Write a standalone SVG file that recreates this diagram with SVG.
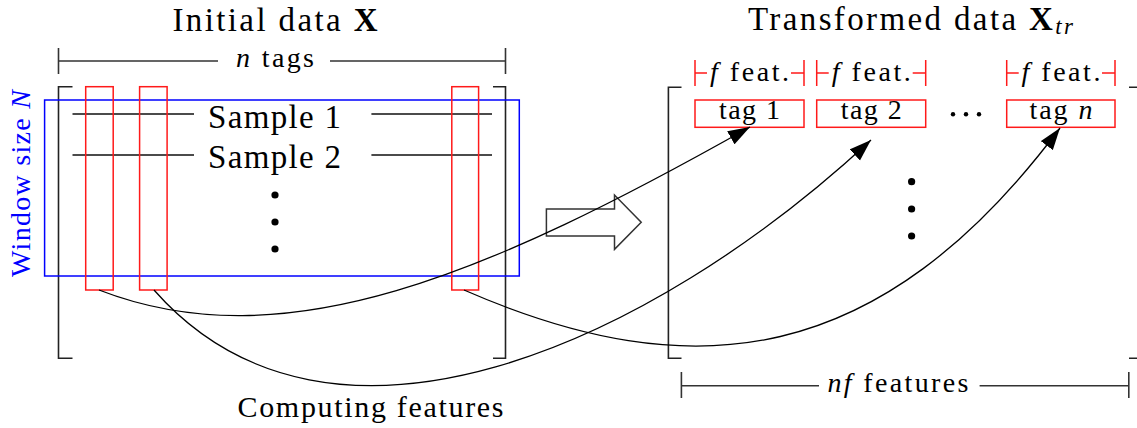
<svg xmlns="http://www.w3.org/2000/svg" width="1137" height="428" viewBox="0 0 1137 428">
<defs>
<marker id="ah" viewBox="-22 -8 23 16" refX="0" refY="0" markerWidth="23" markerHeight="16" markerUnits="userSpaceOnUse" orient="auto">
<path d="M0,0 L-22,-7.5 L-22,7.5 Z" fill="#000"/>
</marker>
<style>
text{font-family:"Liberation Serif","Times New Roman",serif;fill:#000}
.big{font-size:33px}
.med{font-size:28px}
.brk{fill:none;stroke:#222;stroke-width:1.6}
.dim{fill:none;stroke:#333;stroke-width:1.6}
.ln{fill:none;stroke:#111;stroke-width:1.4}
.red{fill:none;stroke:#ff1a1a;stroke-width:1.5}
.blue{fill:none;stroke:#0000ff;stroke-width:1.5}
.dot{fill:#000}
.conn{fill:none;stroke:#000;stroke-width:1.3;marker-end:url(#ah)}
</style>
</defs>
<rect width="1137" height="428" fill="#fff"/>

<g id="title-initial">
<text class="big" x="275" y="31" text-anchor="middle" textLength="205" lengthAdjust="spacing">Initial data <tspan font-weight="bold">X</tspan></text>
</g>

<g id="dim-ntags">
<path class="dim" d="M58.5,48 V74 M505.5,48 V74 M58.5,61 H218 M330,61 H505.5"/>
<text class="med" x="275" y="67" text-anchor="middle" textLength="78" lengthAdjust="spacing"><tspan font-style="italic">n</tspan> tags</text>
</g>

<g id="matrix-initial">
<path class="brk" d="M72.5,86.7 H58.5 V358.3 H72.5 M493,86.7 H505.5 V358.3 H493"/>
</g>

<g id="window">
<rect class="blue" x="44.6" y="100" width="474.7" height="176"/>
<text class="med" transform="translate(30,183.5) rotate(-90)" text-anchor="middle" textLength="187" lengthAdjust="spacing" style="fill:#0000ff">Window size <tspan font-style="italic">N</tspan></text>
</g>

<g id="sample-1">
<path class="ln" d="M72.5,114 H194 M371.4,114 H492"/>
<text class="big" x="274.5" y="128" text-anchor="middle" textLength="133" lengthAdjust="spacing">Sample 1</text>
</g>
<g id="sample-2">
<path class="ln" d="M72.5,155 H194 M371.4,155 H492"/>
<text class="big" x="274.5" y="168" text-anchor="middle" textLength="133" lengthAdjust="spacing">Sample 2</text>
</g>
<g id="samples-dots">
<circle class="dot" cx="275" cy="195" r="3.6"/>
<circle class="dot" cx="275" cy="222" r="3.6"/>
<circle class="dot" cx="275" cy="249" r="3.6"/>
</g>

<g id="tag-col-1"><rect class="red" x="85.7" y="86.7" width="27.5" height="203.3"/></g>
<g id="tag-col-2"><rect class="red" x="139.6" y="86.7" width="27.5" height="203.3"/></g>
<g id="tag-col-n"><rect class="red" x="451.8" y="86.7" width="26.8" height="203.3"/></g>

<g id="transform-arrow">
<polygon points="546.4,209 614.5,209 614.5,195 641.2,222.3 614.5,249.3 614.5,236 546.4,236" fill="none" stroke="#333" stroke-width="1.5"/>
</g>

<g id="label-computing">
<text x="370.5" y="417" text-anchor="middle" textLength="266" lengthAdjust="spacing" style="font-size:30px">Computing features</text>
</g>

<g id="title-transformed">
<text class="big" x="748" y="30" textLength="325" lengthAdjust="spacing">Transformed data <tspan font-weight="bold">X</tspan><tspan font-style="italic" font-size="23" dy="4">tr</tspan></text>
</g>

<g id="feat-1">
<path class="red" d="M695,60 V86 M695,73 H707 M791,73 H804 M804,60 V86"/>
<text class="med" x="749.5" y="80.7" text-anchor="middle" textLength="79" lengthAdjust="spacing"><tspan font-style="italic">f</tspan> feat.</text>
</g>
<g id="feat-2">
<path class="red" d="M816.7,60 V86 M816.7,73 H828.7 M912.7,73 H925.7 M925.7,60 V86"/>
<text class="med" x="871.2" y="80.7" text-anchor="middle" textLength="79" lengthAdjust="spacing"><tspan font-style="italic">f</tspan> feat.</text>
</g>
<g id="feat-n">
<path class="red" d="M1006.7,60 V86 M1006.7,73 H1018.7 M1102,73 H1115 M1115,60 V86"/>
<text class="med" x="1060.9" y="80.7" text-anchor="middle" textLength="79" lengthAdjust="spacing"><tspan font-style="italic">f</tspan> feat.</text>
</g>

<g id="tag-1">
<rect class="red" x="695" y="100" width="109" height="27.3"/>
<text class="med" x="749.5" y="119.3" text-anchor="middle" textLength="61" lengthAdjust="spacing">tag 1</text>
</g>
<g id="tag-2">
<rect class="red" x="816.7" y="100" width="109" height="27.3"/>
<text class="med" x="871.2" y="119.3" text-anchor="middle" textLength="61" lengthAdjust="spacing">tag 2</text>
</g>
<g id="tag-ellipsis">
<circle class="dot" cx="953" cy="114.3" r="2.2"/>
<circle class="dot" cx="966" cy="114.3" r="2.2"/>
<circle class="dot" cx="979" cy="114.3" r="2.2"/>
</g>
<g id="tag-n">
<rect class="red" x="1006.7" y="100" width="108.3" height="27.3"/>
<text class="med" x="1060.9" y="119.3" text-anchor="middle" textLength="63" lengthAdjust="spacing">tag <tspan font-style="italic">n</tspan></text>
</g>

<g id="matrix-transformed">
<path class="brk" d="M681.5,87.3 H668.4 V358.3 H681.5 M1129,87.3 H1142 V358.3 H1129"/>
<circle class="dot" cx="911.6" cy="181.7" r="3.6"/>
<circle class="dot" cx="911.6" cy="209" r="3.6"/>
<circle class="dot" cx="911.6" cy="236" r="3.6"/>
</g>

<g id="dim-nf">
<path class="dim" d="M681.4,372 V398 M681.4,385.7 H819 M979.6,385.7 H1128.8 M1128.8,372 V398"/>
<text class="med" x="898" y="391.7" text-anchor="middle" textLength="141" lengthAdjust="spacing"><tspan font-style="italic">nf</tspan> features</text>
</g>

<g id="connectors">
<path class="conn" d="M99,290 C285,362 489,274 750,127"/>
<path class="conn" d="M154,290 C330,490 650,345 871,140"/>
<path class="conn" d="M464,290 C693,390 880,368 1060,128"/>
</g>
</svg>
